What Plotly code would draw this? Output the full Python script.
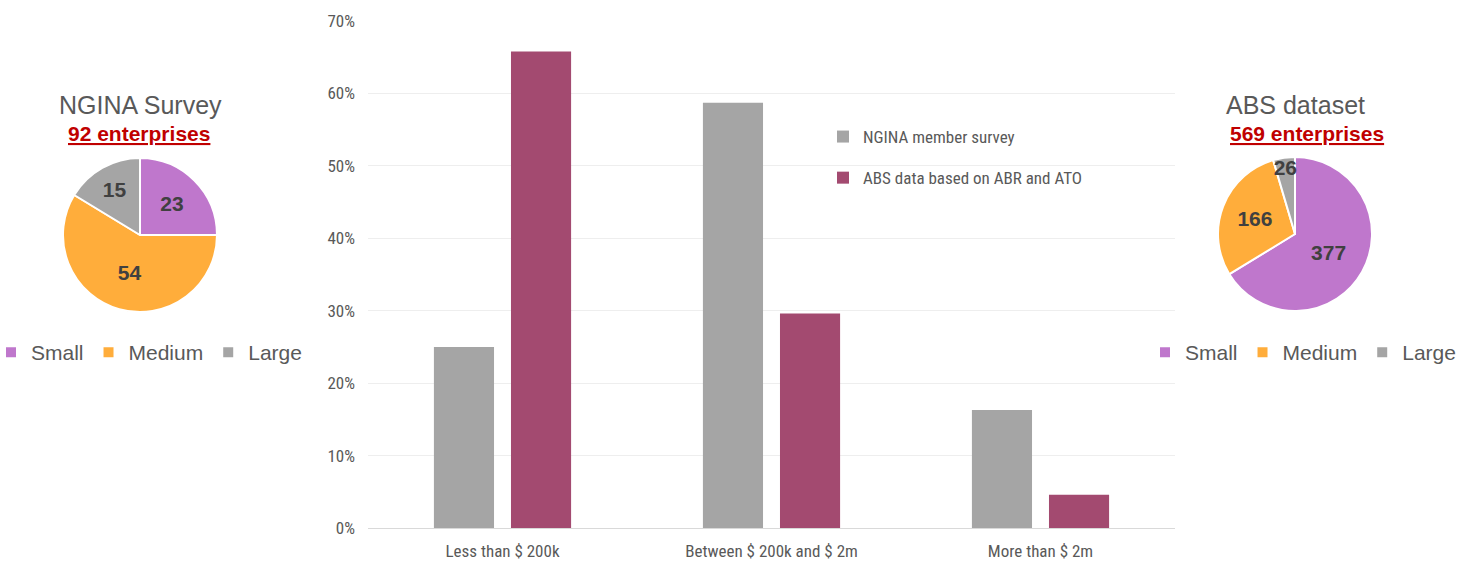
import plotly.graph_objects as go

# ---- data ----
categories = ["Less than $ 200k", "Between $ 200k and $ 2m", "More than $ 2m"]
ngina_share = [0.250, 0.587, 0.163]
abs_share = [0.658, 0.296, 0.046]
series_names = ["NGINA member survey", "ABS data based on ABR and ATO"]

size_labels = ["Small", "Medium", "Large"]
ngina_counts = [23, 54, 15]
abs_counts = [377, 166, 26]
y_ticks = [0, 0.1, 0.2, 0.3, 0.4, 0.5, 0.6, 0.7]
y_ticklabels = ["0%", "10%", "20%", "30%", "40%", "50%", "60%", "70%"]

W, H = 1470, 566
GRAY = "#A5A5A5"
WINE = "#A34A70"
PIE_COLORS = ["#BF77CC", "#FFAD3B", "#A5A5A5"]
TXT = "#595959"
NARROW = "Liberation Sans Narrow, Arial Narrow, Roboto Condensed, Roboto, sans-serif"
SANS = "Liberation Sans, Arial, sans-serif"


def px_x(x):
    return x / W


def px_y(y):
    return 1 - y / H


fig = go.Figure()

fig.add_trace(go.Bar(x=categories, y=ngina_share, name=series_names[0],
                     marker=dict(color=GRAY, line=dict(width=0)),
                     legend="legend", legendgroup="a"))
fig.add_trace(go.Bar(x=categories, y=abs_share, name=series_names[1],
                     marker=dict(color=WINE, line=dict(width=0)),
                     legend="legend", legendgroup="b"))


def pie_domain(cx, cy, r):
    return dict(x=[px_x(cx - r), px_x(cx + r)], y=[px_y(cy + r), px_y(cy - r)])


# second pie needs distinct label keys so it gets its own legend (zero-width suffix)
abs_labels = [s + "\u200b" for s in size_labels]

fig.add_trace(go.Pie(labels=size_labels, values=ngina_counts, sort=False,
                     direction="clockwise", rotation=0,
                     marker=dict(colors=PIE_COLORS, line=dict(color="white", width=2)),
                     textinfo="value", textposition="inside",
                     insidetextorientation="horizontal",
                     textfont=dict(family=SANS, size=21, color="#404040", weight="bold"),
                     domain=pie_domain(140, 235, 77), legend="legend2",
                     showlegend=True, hoverinfo="label+value"))
fig.add_trace(go.Pie(labels=abs_labels, values=abs_counts, sort=False,
                     direction="clockwise", rotation=0,
                     marker=dict(colors=PIE_COLORS, line=dict(color="white", width=2)),
                     textinfo="value", textposition="inside",
                     insidetextorientation="horizontal",
                     textfont=dict(family=SANS, size=21, color="#404040", weight="bold"),
                     domain=pie_domain(1295, 234, 77), legend="legend3",
                     showlegend=True, hoverinfo="label+value"))

annotations = [
    dict(text="NGINA Survey", x=px_x(140), y=px_y(105), font=dict(family=SANS, size=25, color=TXT)),
    dict(text="<b><u>92 enterprises</u></b>", x=px_x(139), y=px_y(133), font=dict(family=SANS, size=21, color="#C00000")),
    dict(text="ABS dataset", x=px_x(1295), y=px_y(105), font=dict(family=SANS, size=25, color=TXT)),
    dict(text="<b><u>569 enterprises</u></b>", x=px_x(1307), y=px_y(133), font=dict(family=SANS, size=21, color="#C00000")),
]
for a in annotations:
    a.update(xref="paper", yref="paper", showarrow=False, xanchor="center", yanchor="middle")

fig.update_layout(
    width=W, height=H,
    margin=dict(l=0, r=0, t=0, b=0, pad=0, autoexpand=False),
    paper_bgcolor="white", plot_bgcolor="white",
    barmode="group", bargap=0.427, bargroupgap=0.22,
    uniformtext=dict(minsize=21, mode="show"),
    xaxis=dict(domain=[px_x(368), px_x(1175)], showgrid=False, showline=True,
               linecolor="#D9D9D9", linewidth=1, ticks="", automargin=False,
               tickfont=dict(family=NARROW, size=17, color=TXT), ticklabelstandoff=8),
    yaxis=dict(domain=[px_y(528), px_y(21)], range=[0, 0.7], tickvals=y_ticks,
               ticktext=y_ticklabels, showgrid=True, gridcolor="#EEEEEE", gridwidth=1,
               zeroline=False, showline=False, ticks="", automargin=False,
               tickfont=dict(family=NARROW, size=17, color=TXT), ticklabelstandoff=12),
    legend=dict(x=px_x(823), y=px_y(119), xanchor="left", yanchor="top",
                orientation="v", tracegroupgap=16, bgcolor="rgba(0,0,0,0)",
                font=dict(family=NARROW, size=17, color=TXT)),
    legend2=dict(x=px_x(-9), y=px_y(332), xanchor="left", yanchor="top",
                 orientation="h", bgcolor="rgba(0,0,0,0)",
                 font=dict(family=SANS, size=21, color=TXT)),
    legend3=dict(x=px_x(1145), y=px_y(332), xanchor="left", yanchor="top",
                 orientation="h", bgcolor="rgba(0,0,0,0)",
                 font=dict(family=SANS, size=21, color=TXT)),
    annotations=annotations,
    showlegend=True,
)

fig.write_html("out.html")
